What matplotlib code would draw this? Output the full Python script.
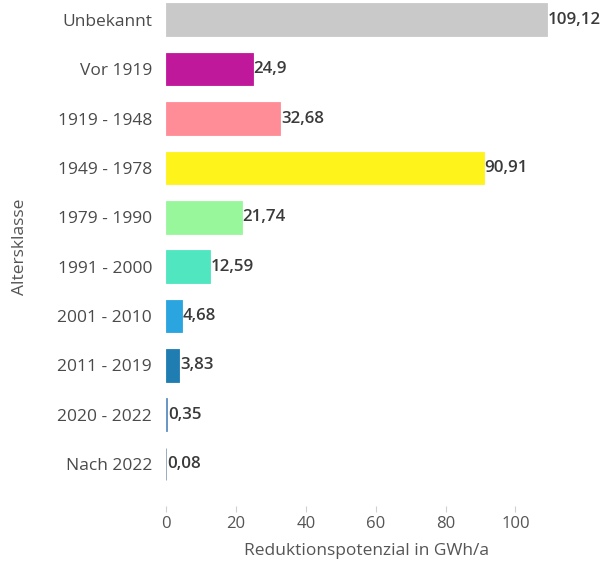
import matplotlib
matplotlib.use("Agg")
import matplotlib.pyplot as plt

plt.rcParams['font.family'] = ['Open Sans', 'DejaVu Sans']

categories = ["Unbekannt", "Vor 1919", "1919 - 1948", "1949 - 1978", "1979 - 1990",
              "1991 - 2000", "2001 - 2010", "2011 - 2019", "2020 - 2022", "Nach 2022"]
values = [109.12, 24.9, 32.68, 90.91, 21.74, 12.59, 4.68, 3.83, 0.35, 0.08]
labels = ["109,12", "24,9", "32,68", "90,91", "21,74", "12,59", "4,68", "3,83", "0,35", "0,08"]
colors = ["#c9c9c9", "#c0189b", "#ff8d98", "#fff31c", "#99f79b",
          "#4fe6c0", "#2aa5df", "#1f7db1", "#5f8fc0", "#8c9fb5"]

fig = plt.figure(figsize=(6.08, 5.63), dpi=100)
ax = fig.add_axes([0.273, 0.101, 0.661, 0.899])

pos = list(range(len(categories)))
ax.barh(pos, values, height=0.66, color=colors, edgecolor=colors, linewidth=0.6)

for p, v, t in zip(pos, values, labels):
    ax.text(v + 0.2, p, t, va="center", ha="left", fontsize=12.2,
            color="#3a3a3a", fontweight="semibold")

ax.set_xlim(0, 115)
ax.set_ylim(9.85, -0.4)
ax.set_yticks(pos)
ax.set_yticklabels(categories, fontsize=12.5, color="#4a4a4a")
ax.set_xticks([0, 20, 40, 60, 80, 100])
ax.tick_params(axis="y", length=0, pad=10)
ax.tick_params(axis="x", length=4, width=0.8, color="#d0d0d0", labelsize=12,
               labelcolor="#555555", pad=3)
for s in ax.spines.values():
    s.set_visible(False)

fig.text(366 / 608, 1 - 551 / 563, "Reduktionspotenzial in GWh/a", ha="center",
         va="center", fontsize=12.5, color="#555555")
fig.text(20 / 608, 1 - 247 / 563, "Altersklasse", ha="center", va="center",
         rotation=90, fontsize=12.5, color="#555555")

fig.savefig("out.png", dpi=100)
